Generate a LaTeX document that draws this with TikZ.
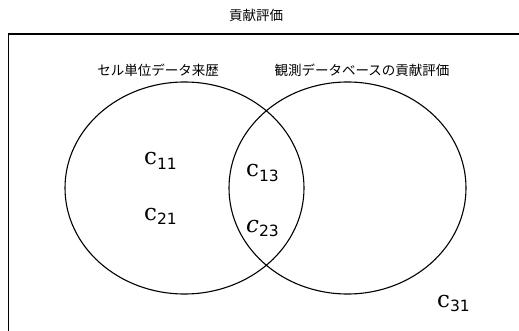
\documentclass[tikz,border=0pt]{standalone}
\usepackage{fontspec}
\usetikzlibrary{shapes.geometric}
\newfontfamily\jp{Noto Sans CJK JP}
\newfontfamily\cfont{DejaVu Serif}
\newfontfamily\dfont{DejaVu Sans}
\newcommand{\csub}[1]{\raisebox{-4.5pt}{\dfont\fontsize{15.5}{17}\selectfont #1}}
\begin{document}
\begin{tikzpicture}[x=1pt,y=-1pt,
  jlabel/.style={font=\jp\fontsize{13.5}{15}\selectfont, inner sep=0pt},
  cvar/.style={font=\cfont\fontsize{23}{25}\selectfont, inner sep=0pt, anchor=base west},
  setline/.style={draw=black, line width=1.1pt, ellipse, inner sep=0pt, minimum height=212pt}]
\useasboundingbox (0,0) rectangle (519,331);
\begin{scope}
\clip (0,0) rectangle (519,331);
\draw[line width=1.5pt] (8.5,540) -- (8.5,34) -- (540,34);
\end{scope}
\node[jlabel] (title) at (256,15) {貢献評価};
\node[jlabel] (lA) at (158,70) {セル単位データ来歴};
\node[jlabel] (lB) at (362,70) {観測データベースの貢献評価};
\node[setline, minimum width=239pt] (A) at (184.5,188) {};
\node[setline, minimum width=237pt] (B) at (347.5,188) {};
\node[cvar] (c11) at (144,165) {c\csub{11}};
\node[cvar] (c21) at (144,220) {c\csub{21}};
\node[cvar] (c13) at (246,177) {c\csub{13}};
\node[cvar] (c23) at (246,232) {{\itshape c}\csub{23}};
\node[cvar] (c31) at (437,307) {c\csub{31}};
\end{tikzpicture}
\end{document}
